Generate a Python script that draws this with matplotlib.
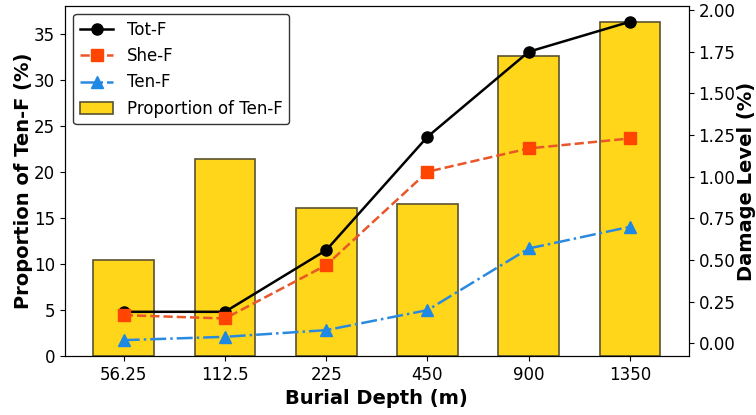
import matplotlib
matplotlib.use("Agg")
import matplotlib.pyplot as plt
import numpy as np

depths = ['56.25', '112.5', '225', '450', '900', '1350']
prop_ten = [10.4, 21.4, 16.1, 16.6, 32.7, 36.3]
tot_f = [0.19, 0.19, 0.56, 1.24, 1.75, 1.93]
she_f = [0.17, 0.15, 0.47, 1.03, 1.17, 1.23]
ten_f = [0.02, 0.04, 0.08, 0.20, 0.57, 0.70]

x = np.arange(len(depths))

fig, ax1 = plt.subplots(figsize=(7.56, 4.15), dpi=100)
fig.subplots_adjust(left=0.086, right=0.911, bottom=0.142, top=0.986)

# bars: share of tensile fractures (left axis)
bars = ax1.bar(x, prop_ten, width=0.6, color='#FFD619', edgecolor='#5a5230',
               linewidth=1.2, label='Proportion of Ten-F')
ax1.set_xticks(x)
ax1.set_xticklabels(depths)
ax1.set_xlabel('Burial Depth (m)', fontsize=14, fontweight='bold')
ax1.set_ylabel('Proportion of Ten-F (%)', fontsize=14, fontweight='bold')
ax1.tick_params(labelsize=12)
ax1.yaxis.set_label_coords(-0.052, 0.5)

# lines: damage levels (right axis)
ax2 = ax1.twinx()
l1, = ax2.plot(x, tot_f, 'o-', color='black', linewidth=1.8, markersize=8, label='Tot-F')
l2, = ax2.plot(x, she_f, 's--', color='#E8562A', markerfacecolor='#FF4500',
               markeredgecolor='#FF4500', linewidth=1.8, markersize=8, label='She-F')
l3, = ax2.plot(x, ten_f, '^-.', color='#2A8AE0', markerfacecolor='#1E88E5',
               markeredgecolor='#1E88E5', linewidth=1.8, markersize=8, label='Ten-F')
ax2.set_ylabel('Damage Level (%)', fontsize=14, fontweight='bold')
ax2.tick_params(labelsize=12)
ax2.set_yticks(np.arange(0, 2.01, 0.25))
ax2.yaxis.set_major_formatter(matplotlib.ticker.FormatStrFormatter('%.2f'))
ax2.yaxis.set_label_coords(1.078, 0.5)

ax2.legend(handles=[l1, l2, l3, bars], loc='upper left', fontsize=12,
           edgecolor='#333333', framealpha=1)

fig.savefig('out.png')
